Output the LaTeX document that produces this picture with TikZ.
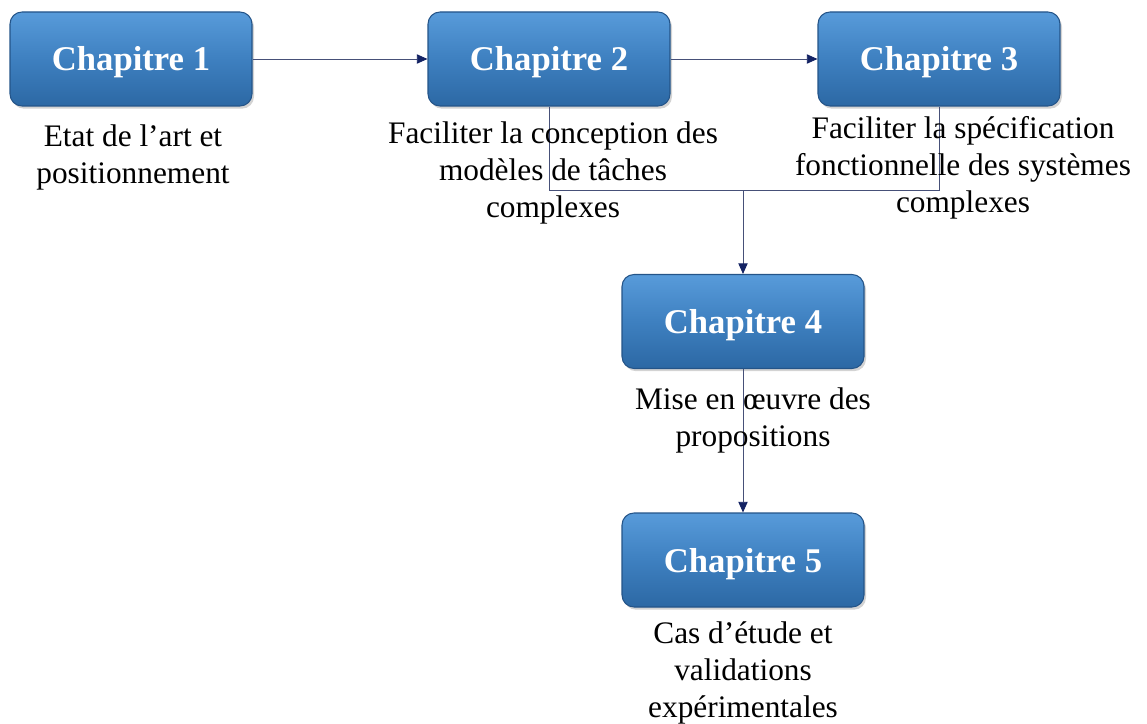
\documentclass[tikz,border=0pt]{standalone}
\usepackage{fontspec}
\setmainfont{Liberation Serif}
\usetikzlibrary{shadows,arrows.meta}
\definecolor{boxtop}{RGB}{88,155,218}
\definecolor{boxmid}{RGB}{62,128,192}
\definecolor{boxbot}{RGB}{44,104,164}
\definecolor{boxedge}{RGB}{36,84,136}
\definecolor{linec}{RGB}{70,80,120}
\definecolor{tipc}{RGB}{20,35,100}
\begin{document}
\begin{tikzpicture}[x=0.75pt,y=-0.75pt,
  chap/.style={draw=boxedge, line width=0.8pt, rounded corners=9pt,
    top color=boxtop, bottom color=boxbot, middle color=boxmid, minimum width=181.5pt, minimum height=70.5pt,
    drop shadow={shadow xshift=1.5pt, shadow yshift=-2pt, opacity=0.35},
    text height=24pt, text depth=6pt,
    text=white, font=\fontsize{26}{30}\selectfont\bfseries},
  lab/.style={align=center, font=\fontsize{23.5}{28}\selectfont, inner sep=0pt},
  conn/.style={draw=linec, line width=0.7pt},
  arr/.style={conn, -{Triangle[length=8pt,width=7pt,fill=tipc,color=tipc]}}]
\useasboundingbox (0,0) rectangle (1147,724);
\node[chap] (b1) at (131,59) {Chapitre 1};
\node[chap] (b2) at (549,59) {Chapitre 2};
\node[chap] (b3) at (939,59) {Chapitre 3};
\node[chap] (b4) at (743,321.5) {Chapitre 4};
\node[chap] (b5) at (743,560) {Chapitre 5};
\coordinate (j) at (743,190);
\draw[arr] (b1.east) -- (b2.west);
\draw[arr] (b2.east) -- (b3.west);
\draw[conn] (b2.south) -- (b2.south |- j) -- (b3.south |- j) -- (b3.south);
\draw[arr] (j) -- (b4.north);
\draw[arr] (b4.south) -- (b5.north);
\node[lab, anchor=north] (t1) at (133,124) {Etat de l’art et\\positionnement};
\node[lab, anchor=north] (t2) at (553,121) {Faciliter la conception des\\modèles de tâches\\complexes};
\node[lab, anchor=north] (t3) at (963,116) {Faciliter la spécification\\fonctionnelle des systèmes\\complexes};
\node[lab, anchor=north] (t4) at (753,387) {Mise en œuvre des\\propositions};
\node[lab, anchor=north] (t5) at (743,621) {Cas d’étude et\\validations\\expérimentales};
\end{tikzpicture}
\end{document}
